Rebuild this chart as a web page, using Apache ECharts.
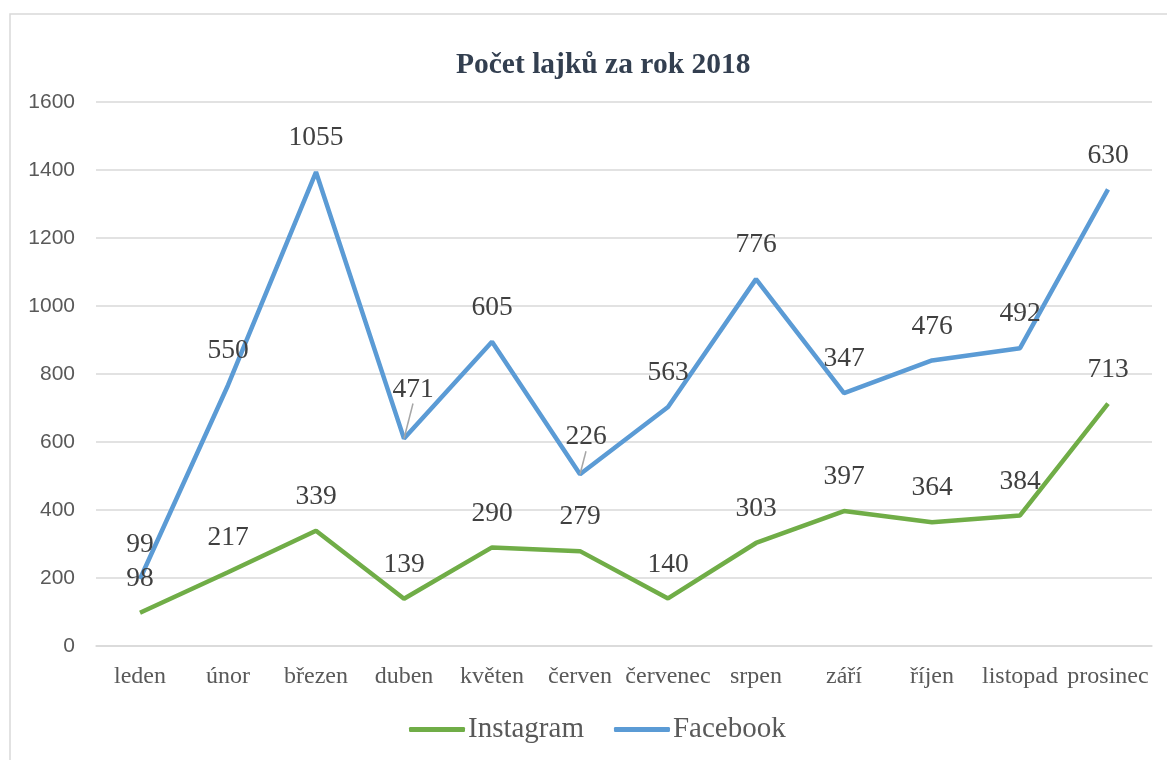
<!DOCTYPE html>
<html>
<head>
<meta charset="utf-8">
<script src="https://cdn.jsdelivr.net/npm/echarts@6/dist/echarts.min.js"></script>
<style>
html,body{margin:0;padding:0;background:#fff;}
#chart{width:1167px;height:760px;}
</style>
</head>
<body>
<div id="chart"></div>
<script>
const titleText = 'Počet lajků za rok 2018';
const months = ['leden','únor','březen','duben','květen','červen','červenec','srpen','září','říjen','listopad','prosinec'];
const instagram = [98, 217, 339, 139, 290, 279, 140, 303, 397, 364, 384, 713];
const facebook = [99, 550, 1055, 471, 605, 226, 563, 776, 347, 476, 492, 630];
const yTicks = [0, 200, 400, 600, 800, 1000, 1200, 1400, 1600];

const serif = '"Liberation Serif", "Times New Roman", serif';
const labelStyle = {show: true, position: 'top', distance: 20, fontFamily: serif, fontSize: 27.5, color: '#404040'};
const leader = {show: true, lineStyle: {color: '#a6a6a6', width: 1.5}};

const chart = echarts.init(document.getElementById('chart'));
chart.setOption({
  animation: false,
  backgroundColor: '#fff',
  graphic: [{
    type: 'rect', silent: true,
    shape: {x: 10, y: 14, width: 1300, height: 900},
    style: {fill: 'none', stroke: '#d9d9d9', lineWidth: 1.5}
  }],
  title: {
    text: titleText, left: 451, top: 45,
    textStyle: {fontFamily: serif, fontWeight: 'bold', fontSize: 29.5, color: '#333f50'}
  },
  legend: {
    bottom: 11, left: 404, itemGap: 30, itemWidth: 56, itemHeight: 5,
    icon: 'roundRect',
    textStyle: {fontFamily: serif, fontSize: 29, color: '#595959', padding: [0,0,0,-2]},
    data: ['Instagram', 'Facebook']
  },
  grid: {left: 96, right: 15, top: 102, bottom: 114},
  xAxis: {
    type: 'category', data: months, boundaryGap: true,
    axisLine: {show: true, lineStyle: {color: '#d9d9d9', width: 1.5}},
    axisTick: {show: false},
    axisLabel: {fontFamily: serif, fontSize: 24, color: '#595959', margin: 19, interval: 0}
  },
  yAxis: {
    type: 'value', min: yTicks[0], max: yTicks[yTicks.length-1], interval: 200,
    axisLine: {show: false}, axisTick: {show: false},
    splitLine: {lineStyle: {color: '#d9d9d9', width: 1.5}},
    axisLabel: {fontFamily: '"Liberation Sans", Arial, sans-serif', fontSize: 21, color: '#595959', margin: 21,
      formatter: v => String(v)}
  },
  series: [
    {
      name: 'Instagram', type: 'line', stack: 'total', data: instagram,
      symbol: 'circle', symbolSize: 0.1, showSymbol: true,
      lineStyle: {color: '#70ad47', width: 4.5}, itemStyle: {color: '#70ad47'},
      label: labelStyle
    },
    {
      name: 'Facebook', type: 'line', stack: 'total',
      data: facebook.map((v, i) => (i === 3 || i === 5) ? {value: v, labelLine: leader} : v),
      symbol: 'circle', symbolSize: 0.1, showSymbol: true,
      lineStyle: {color: '#5b9bd5', width: 4.5}, itemStyle: {color: '#5b9bd5'},
      label: labelStyle,
      labelLine: {show: false},
      labelLayout: function (p) {
        if (p.dataIndex === 3) return {dx: 9, dy: -15};
        if (p.dataIndex === 5) return {dx: 6, dy: -3};
        return {};
      }
    }
  ]
});
</script>
</body>
</html>
